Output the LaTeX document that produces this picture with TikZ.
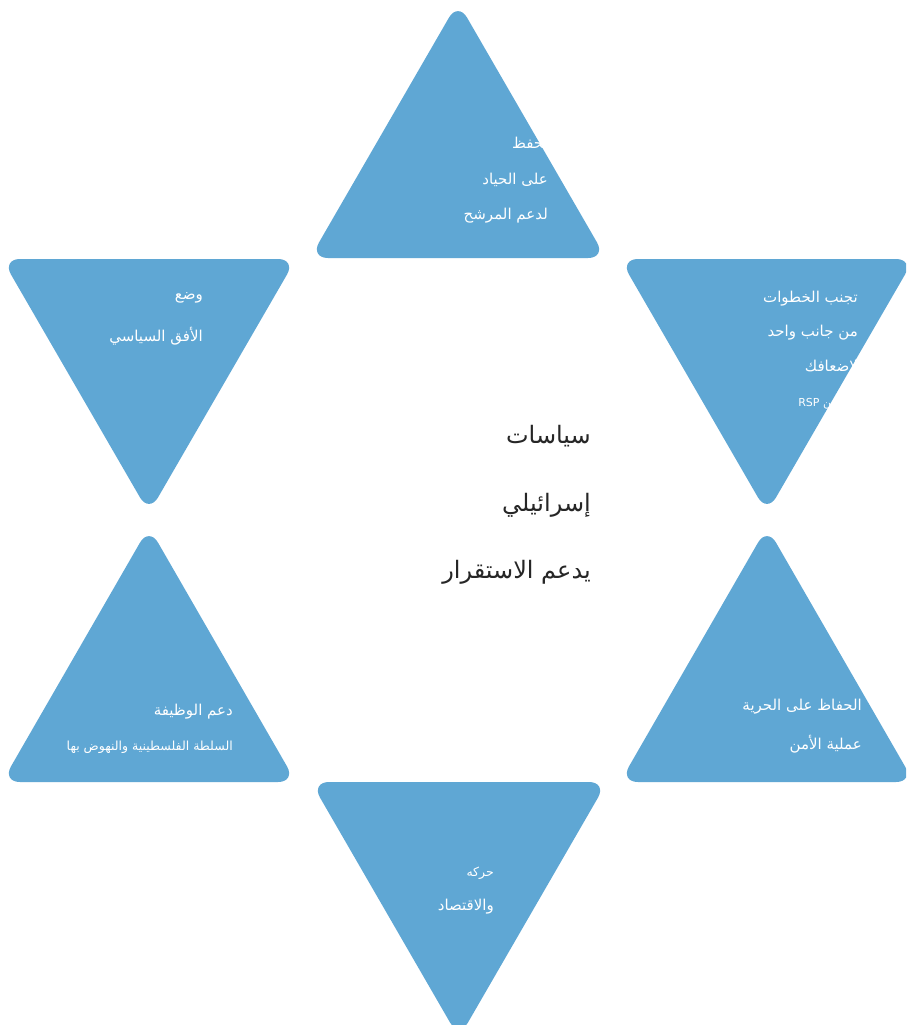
\documentclass[tikz,border=0pt]{standalone}
\usepackage{fontspec}
\newfontfamily\arabicfont[Script=Arabic]{DejaVu Sans}
\TeXXeTstate=1
\definecolor{tricol}{RGB}{95,167,212}
\definecolor{maintext}{RGB}{38,38,38}
\begin{document}
\begin{tikzpicture}[x=1pt,y=-1pt,
  tri/.style={fill=tricol, rounded corners=18pt},
  lab/.style={text=white, anchor=east, inner sep=0pt, font=\arabicfont\fontsize{15}{18}\selectfont},
  smalllab/.style={lab, font=\arabicfont\fontsize{12.5}{15}\selectfont},
  tinylab/.style={lab, font=\arabicfont\fontsize{11}{13}\selectfont},
  biglab/.style={text=maintext, anchor=east, inner sep=0pt, font=\arabicfont\fontsize{24}{28}\selectfont}]
\useasboundingbox (0,0) rectangle (906,1025);
\fill[white] (0,0) rectangle (906,1025);
\clip (0,0) rectangle (906,1025);
% triangles
\fill[tri] (458,2) -- (606,258) -- (310,258) -- cycle;
\fill[tri] (2,259) -- (296,259) -- (149,513) -- cycle;
\fill[tri] (620,259) -- (914,259) -- (767,513) -- cycle;
\fill[tri] (149,527) -- (296,782) -- (2,782) -- cycle;
\fill[tri] (767,527) -- (914,782) -- (620,782) -- cycle;
\fill[tri] (311,782) -- (607,782) -- (459,1038) -- cycle;
% top
\node[lab] (t1) at (548,143) {\beginR تحفظ\endR};
\node[lab] (t2) at (548,180) {\beginR على الحياد\endR};
\node[lab] (t3) at (548,216) {\beginR لدعم المرشح\endR};
% upper left
\node[lab] (ul1) at (203,298) {\beginR وضع\endR};
\node[lab] (ul2) at (203,336) {\beginR الأفق السياسي\endR};
% upper right
\node[lab] (ur1) at (858,299) {\beginR تجنب الخطوات\endR};
\node[lab] (ur2) at (858,333) {\beginR من جانب واحد\endR};
\node[lab] (ur3) at (858,368) {\beginR لإضعافك\endR};
\node[tinylab] (ur4) at (838,404) {\beginR بين \beginL RSP\endL\endR};
% center
\node[biglab] (c1) at (591,436) {\beginR سياسات\endR};
\node[biglab] (c2) at (591,505) {\beginR إسرائيلي\endR};
\node[biglab] (c3) at (591,572) {\beginR يدعم الاستقرار\endR};
% lower left
\node[lab] (ll1) at (233,712) {\beginR دعم الوظيفة\endR};
\node[smalllab] (ll2) at (233,747) {\beginR السلطة الفلسطينية والنهوض بها\endR};
% lower right
\node[lab] (lr1) at (862,707) {\beginR الحفاظ على الحرية\endR};
\node[lab] (lr2) at (862,744) {\beginR عملية الأمن\endR};
% bottom
\node[smalllab] (b1) at (494,873) {\beginR حركه\endR};
\node[lab] (b2) at (494,907) {\beginR والاقتصاد\endR};
\end{tikzpicture}
\end{document}
